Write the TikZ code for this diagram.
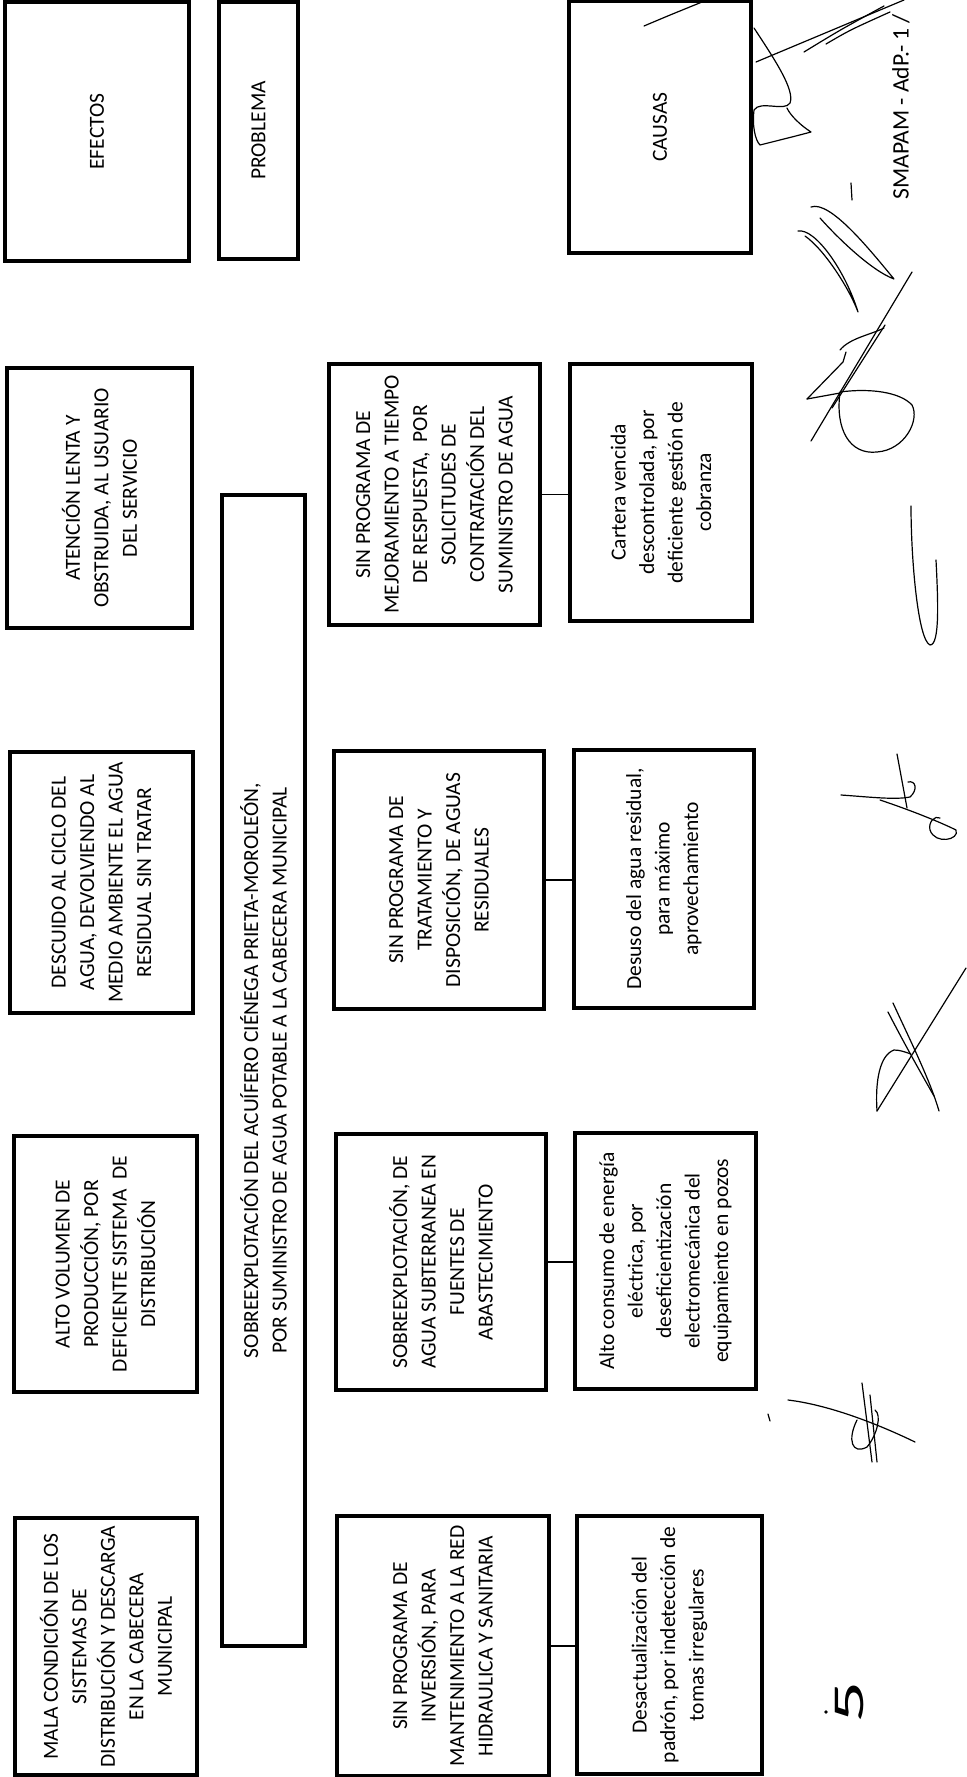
\documentclass[tikz,border=0pt]{standalone}
\usepackage{fontspec}
\setmainfont{Carlito}
\begin{document}
\begin{tikzpicture}[x=0.5pt,y=-0.5pt,
  box/.style={draw, line width=1.7pt, rotate=90, inner sep=2pt, align=center,
              font=\fontsize{10.75}{14.25}\selectfont},
  link/.style={line width=0.8pt},
  sig/.style={line width=0.6pt, line cap=round, line join=round}]
\useasboundingbox (0,0) rectangle (966,1777);

% ---------- headers
\node[box, minimum width=129.5pt, minimum height=92pt] (efectos) at (97,131.5) {EFECTOS};
\node[box, minimum width=128.5pt, minimum height=39.5pt] (problema) at (258.5,130.5) {PROBLEMA};
\node[box, minimum width=126pt, minimum height=91pt] (causas) at (660,127) {CAUSAS};

% ---------- effects
\node[box, minimum width=130pt, minimum height=92.5pt] (e1) at (99.5,498)
  {ATENCIÓN LENTA Y\\OBSTRUIDA, AL USUARIO\\DEL SERVICIO};
\node[box, minimum width=130.5pt, minimum height=91.5pt] (e2) at (101.5,882.5)
  {DESCUIDO AL CICLO DEL\\AGUA, DEVOLVIENDO AL\\MEDIO AMBIENTE EL AGUA\\RESIDUAL SIN TRATAR};
\node[box, minimum width=128pt, minimum height=91.5pt] (e3) at (105.5,1264)
  {ALTO VOLUMEN DE\\PRODUCCIÓN, POR\\DEFICIENTE SISTEMA~ DE\\DISTRIBUCIÓN};
\node[box, minimum width=128.5pt, minimum height=91pt] (e4) at (106,1646.5)
  {MALA CONDICIÓN DE LOS\\SISTEMAS DE\\DISTRIBUCIÓN Y DESCARGA\\EN LA CABECERA\\MUNICIPAL};

% ---------- problem bar
\node[box, minimum width=575.5pt, minimum height=41.5pt] (prob) at (263.5,1070.5)
  {SOBREEXPLOTACIÓN DEL ACUÍFERO CIÉNEGA PRIETA-MOROLEÓN,\\POR SUMINISTRO DE AGUA POTABLE A LA CABECERA MUNICIPAL};

% ---------- causes, first column
\node[box, minimum width=130.5pt, minimum height=105.5pt] (c1a) at (434.5,494.5)
  {SIN PROGRAMA DE\\MEJORAMIENTO A TIEMPO\\DE RESPUESTA,~ POR\\SOLICITUDES DE\\CONTRATACIÓN DEL\\SUMINISTRO DE AGUA};
\node[box, minimum width=129pt, minimum height=105pt] (c1b) at (439,880)
  {SIN PROGRAMA DE\\TRATAMIENTO Y\\DISPOSICIÓN, DE AGUAS\\RESIDUALES};
\node[box, minimum width=128pt, minimum height=105pt] (c1c) at (441,1262)
  {SOBREEXPLOTACIÓN, DE\\AGUA SUBTERRANEA EN\\FUENTES DE\\ABASTECIMIENTO};
\node[box, minimum width=130pt, minimum height=106pt] (c1d) at (443,1646)
  {SIN PROGRAMA DE\\INVERSIÓN, PARA\\MANTENIMIENTO A LA RED\\HIDRAULICA Y SANITARIA};

% ---------- causes, second column
\node[box, minimum width=128.5pt, minimum height=91pt] (c2a) at (661,492.5)
  {Cartera vencida\\descontrolada, por\\deficiente gestión de\\cobranza};
\node[box, minimum width=129pt, minimum height=90pt] (c2b) at (664,879)
  {Desuso del agua residual,\\para máximo\\aprovechamiento};
\node[box, minimum width=128pt, minimum height=90.5pt] (c2c) at (665.5,1261)
  {Alto consumo de energía\\eléctrica, por\\deseficientización\\electromecánica del\\equipamiento en pozos};
\node[box, minimum width=129pt, minimum height=92.5pt] (c2d) at (669.5,1645)
  {Desactualización del\\padrón, por indetección de\\tomas irregulares};

% ---------- connectors
\draw[link] (c1a.south) -- (c1a.south -| c2a.north);
\draw[link] (c1b.south) -- (c1b.south -| c2b.north);
\draw[link] (c1c.south) -- (c1c.south -| c2c.north);
\draw[link] (c1d.south) -- (c1d.south -| c2d.north);

% ---------- margin text
\node[rotate=90, anchor=west, inner sep=0pt, font=\fontsize{11.8}{14}\selectfont] (smapam) at (901,200) {SMAPAM - AdP.- 1 /};
\node[rotate=90, inner sep=0pt, font=\fontsize{22}{22}\selectfont] (pagenum) at (850,1702) {\scalebox{1.9}[1]{5}};
\fill (826,1712) circle (1.8);

% ---------- signatures
% A
\draw[sig] (644,26) .. controls (670,15) .. (707,0);
\draw[sig] (756,62) -- (904,0);
\draw[sig] (804,52) .. controls (840,30) .. (884,6);
\draw[sig] (826,44) .. controls (850,30) .. (890,12);
\draw[sig] (754,28) .. controls (775,60) and (795,90) .. (790,103) .. controls (785,112) and (760,100) .. (754,110)
  .. controls (752,125) and (755,140) .. (760,145) .. controls (780,140) and (800,135) .. (811,132)
  .. controls (800,125) and (790,115) .. (787,108);
% B
\draw[sig] (851,183) -- (852,200);
\draw[sig] (811,207) .. controls (830,200) and (870,250) .. (894,279) .. controls (870,270) and (835,235) .. (820,218);
\draw[sig] (798,231) .. controls (815,228) and (845,270) .. (858,312) .. controls (850,290) and (825,250) .. (805,236);
% C
\draw[sig] (912,272) -- (811,441);
\draw[sig] (885,325) -- (832,408);
\draw[sig] (840,392) .. controls (835,430) and (850,455) .. (877,452) .. controls (905,450) and (920,420) .. (912,405) .. controls (900,392) and (870,388) .. (840,392);
\draw[sig] (807,399) -- (843,362) -- (846,352);
\draw[sig] (807,399) -- (840,393);
\draw[sig] (840,350) .. controls (850,338) and (870,335) .. (884,328);
% D
\draw[sig] (911,506) .. controls (911,560) and (918,640) .. (930,645) .. controls (940,645) and (938,600) .. (936,560);
% E
\draw[sig] (897,754) -- (907,808);
\draw[sig] (841,795) .. controls (870,797) and (895,800) .. (910,797) .. controls (918,790) and (916,780) .. (908,782);
\draw[sig] (880,800) .. controls (910,810) and (940,822) .. (956,830) .. controls (960,840) and (935,845) .. (930,830) .. controls (928,822) and (935,815) .. (940,818);
% F
\draw[sig] (966,968) -- (877,1111);
\draw[sig] (893,1003) .. controls (910,1040) and (930,1080) .. (939,1111);
\draw[sig] (888,1012) .. controls (905,1045) and (922,1075) .. (934,1096);
\draw[sig] (877,1111) .. controls (875,1080) and (880,1055) .. (894,1050) .. controls (900,1050) and (905,1052) .. (911,1054);
% G
\draw[sig] (768,1414) -- (770,1421);
\draw[sig] (788,1400) .. controls (830,1405) and (880,1425) .. (915,1442);
\draw[sig] (862,1383) -- (872,1462);
\draw[sig] (870,1395) -- (877,1462);
\draw[sig] (857,1420) .. controls (847,1440) and (852,1455) .. (867,1447) .. controls (877,1435) and (882,1415) .. (875,1410);
\end{tikzpicture}
\end{document}
